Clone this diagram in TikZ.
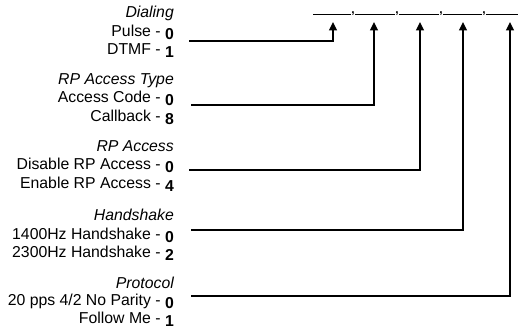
\documentclass[tikz,border=0pt]{standalone}
\usepackage{fontspec}
\setmainfont{Liberation Sans}
\usetikzlibrary{arrows.meta}
\newcommand{\dg}[1]{\raisebox{-3pt}{\bfseries #1}}
\begin{document}
\begin{tikzpicture}[x=1pt,y=-1pt,
  lbl/.style={anchor=base east,inner sep=0pt,font=\fontsize{15.8}{18}\selectfont},
  hd/.style={lbl,font=\fontsize{15.8}{18}\selectfont\itshape},
  conn/.style={line width=1.3pt,-{Triangle[width=8pt,length=8.5pt]}},
  blank/.style={line width=0.8pt},
  commamark/.style={anchor=base,inner sep=0pt,font=\fontsize{12}{12}\selectfont\bfseries}]
\useasboundingbox (0,0) rectangle (518,328);
% labels
\node[hd]  (h1) at (174,18) {Dialing};
\node[lbl] (a1) at (174,37) {Pulse - \dg{0}};
\node[lbl] (b1) at (174,55) {DTMF - \dg{1}};
\node[hd]  (h2) at (174,85) {RP Access Type};
\node[lbl] (a2) at (174,103) {Access Code - \dg{0}};
\node[lbl] (b2) at (174,122) {Callback - \dg{8}};
\node[hd]  (h3) at (174,152) {RP Access};
\node[lbl] (a3) at (174,170) {Disable RP Access - \dg{0}};
\node[lbl] (b3) at (174,189) {Enable RP Access - \dg{4}};
\node[hd]  (h4) at (174,221) {Handshake};
\node[lbl] (a4) at (174,239) {1400Hz Handshake - \dg{0}};
\node[lbl] (b4) at (174,257) {2300Hz Handshake - \dg{2}};
\node[hd]  (h5) at (174,288) {Protocol};
\node[lbl] (a5) at (174,305) {20 pps 4/2 No Parity - \dg{0}};
\node[lbl] (b5) at (174,323) {Follow Me - \dg{1}};
% blank template
\draw[blank] (313,14) -- (351,14);
\draw[blank] (355,14) -- (395,14);
\draw[blank] (399,14) -- (439,14);
\draw[blank] (443,14) -- (482,14);
\draw[blank] (486,14) -- (518,14);
\node[commamark] (c1) at (353,14) {,};
\node[commamark] (c2) at (397,14) {,};
\node[commamark] (c3) at (441,14) {,};
\node[commamark] (c4) at (484,14) {,};
% targets and starts
\coordinate (t1) at (333,22);
\coordinate (t2) at (374,22);
\coordinate (t3) at (420,22);
\coordinate (t4) at (463,22);
\coordinate (t5) at (510,22);
\coordinate (s1) at (189,41);
\coordinate (s2) at (191,105);
\coordinate (s3) at (189,170);
\coordinate (s4) at (191,230);
\coordinate (s5) at (191,296);
\draw[conn] (s1) -| (t1);
\draw[conn] (s2) -| (t2);
\draw[conn] (s3) -| (t3);
\draw[conn] (s4) -| (t4);
\draw[conn] (s5) -| (t5);
\end{tikzpicture}
\end{document}
